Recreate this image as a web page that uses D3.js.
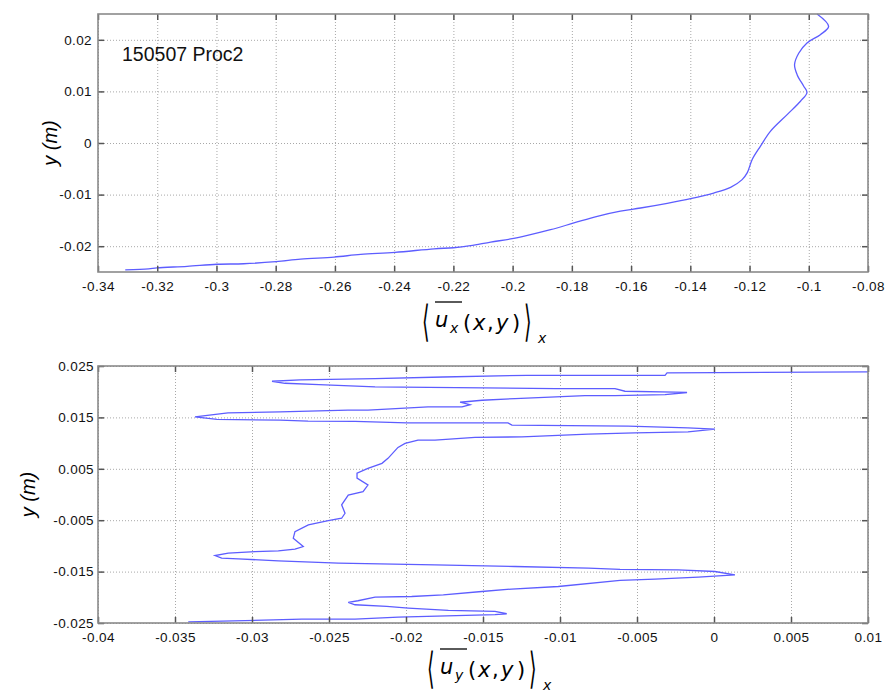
<!DOCTYPE html>
<html><head><meta charset="utf-8">
<script src="https://cdn.jsdelivr.net/npm/d3@7"></script>
<style>body{margin:0;background:#fff}svg{display:block}</style>
</head><body><svg id="c" width="889" height="695"></svg>
<script>
// ---------- data ----------
const topX = [-0.3308,-0.3229,-0.3201,-0.3099,-0.2998,-0.2908,-0.2799,-0.2716,-0.2603,-0.2513,-0.2397,-0.2265,-0.2200,-0.2142,-0.2074,-0.2007,-0.1950,-0.1872,-0.1793,-0.1714,-0.1636,-0.1568,-0.1478,-0.1399,-0.1321,-0.1264,-0.1225,-0.1208,-0.1191,-0.1163,-0.1129,-0.1073,-0.1028,-0.1006,-0.1017,-0.1039,-0.1048,-0.1034,-0.1006,-0.0961,-0.0933,-0.0972];
const topY = [-0.0246,-0.0244,-0.0242,-0.0239,-0.0235,-0.0234,-0.0230,-0.0225,-0.0221,-0.0216,-0.0212,-0.0205,-0.0203,-0.0199,-0.0192,-0.0186,-0.0179,-0.0168,-0.0155,-0.0142,-0.0132,-0.0126,-0.0117,-0.0108,-0.0097,-0.0086,-0.0071,-0.0058,-0.0032,-0.0006,0.0023,0.0055,0.0081,0.0098,0.0110,0.0132,0.0152,0.0174,0.0194,0.0210,0.0226,0.0250];

const botX = [0.0100,-0.00305,-0.00318,-0.01214,-0.0176,-0.02201,-0.02688,-0.0287,-0.02786,-0.02565,-0.02201,-0.01032,-0.00643,-0.00578,-0.00253,-0.00175,-0.00318,-0.00643,-0.00838,-0.01292,-0.01506,-0.01649,-0.01584,-0.01636,-0.01857,-0.02247,-0.02377,-0.02818,-0.03156,-0.0337,-0.03227,-0.02818,-0.02636,-0.02331,-0.01994,-0.01338,-0.01312,-0.00558,-0.00169,0.00006,-0.00169,-0.00513,-0.00818,-0.01247,-0.01552,-0.01812,-0.01922,-0.02006,-0.02052,-0.02117,-0.02156,-0.02247,-0.02318,-0.02318,-0.02247,-0.02279,-0.02375,-0.02418,-0.02396,-0.02418,-0.02505,-0.02634,-0.02721,-0.02732,-0.02667,-0.02721,-0.02829,-0.0298,-0.03154,-0.0324,-0.03197,-0.03089,-0.02829,-0.0244,-0.01812,-0.01292,-0.00816,-0.0061,-0.00232,0.00006,0.00136,-0.00102,-0.00383,-0.0061,-0.01011,-0.01314,-0.01508,-0.01758,-0.01963,-0.02201,-0.02312,-0.02375,-0.02331,-0.02125,-0.01985,-0.01725,-0.01422,-0.01346,-0.01422,-0.0205,-0.02331,-0.02677,-0.03414];
const botY = [0.02387,0.02368,0.02319,0.02319,0.02286,0.02255,0.02232,0.02203,0.02164,0.02139,0.02092,0.02061,0.02061,0.02009,0.0199,0.01984,0.01945,0.01922,0.01922,0.01867,0.01834,0.01795,0.01747,0.01704,0.01704,0.0164,0.0164,0.01607,0.01588,0.0151,0.0146,0.01446,0.01427,0.01421,0.01394,0.01394,0.01349,0.0133,0.01297,0.01271,0.01219,0.012,0.01174,0.01122,0.0111,0.01058,0.01058,0.00994,0.00916,0.00703,0.00606,0.00509,0.00417,0.0032,0.00184,0.00054,-0.0001,-0.0020,-0.00365,-0.00462,-0.00509,-0.00592,-0.00722,-0.0085,-0.01013,-0.01064,-0.01097,-0.0111,-0.01141,-0.01188,-0.01238,-0.01252,-0.01291,-0.01335,-0.01368,-0.01401,-0.01432,-0.01456,-0.01465,-0.01498,-0.01562,-0.01607,-0.01646,-0.01669,-0.0179,-0.0184,-0.01887,-0.01951,-0.01984,-0.01995,-0.02067,-0.021,-0.02145,-0.02178,-0.02209,-0.02255,-0.02275,-0.0232,-0.02339,-0.02384,-0.02426,-0.02426,-0.0248];

const topXTicks = [-0.34,-0.32,-0.3,-0.28,-0.26,-0.24,-0.22,-0.2,-0.18,-0.16,-0.14,-0.12,-0.1,-0.08];
const topYTicks = [-0.02,-0.01,0,0.01,0.02];
const botXTicks = [-0.04,-0.035,-0.03,-0.025,-0.02,-0.015,-0.01,-0.005,0,0.005,0.01];
const botYTicks = [-0.025,-0.015,-0.005,0.005,0.015,0.025];
const annotation = "150507 Proc2";
const yLabel = "y (m)";

// ---------- drawing ----------
const svg = d3.select("#c");
const FONT = "'Liberation Sans', Arial, sans-serif";
const fmt = d => String(+d.toFixed(4));

function panel(o){
  const x = d3.scaleLinear().domain(o.xd).range([o.l, o.r]);
  const y = d3.scaleLinear().domain(o.yd).range([o.b, o.t]);
  const g = svg.append("g");
  const W = o.r - o.l, H = o.b - o.t;
  // grid
  const gx = g.append("g").attr("transform",`translate(0,${o.b})`)
    .call(d3.axisBottom(x).tickValues(o.xt).tickSize(-H).tickFormat(""));
  const gy = g.append("g").attr("transform",`translate(${o.l},0)`)
    .call(d3.axisLeft(y).tickValues(o.yt).tickSize(-W).tickFormat(""));
  [gx,gy].forEach(a=>{a.select(".domain").remove();
    a.selectAll("line").attr("stroke","#a8a8a8").attr("stroke-width",1).attr("stroke-dasharray","1,2");});
  // data line
  const pts = o.xs.map((v,i)=>[v,o.ys[i]]);
  g.append("path").datum(pts)
    .attr("d", d3.line().x(d=>x(d[0])).y(d=>y(d[1])).curve(o.curve))
    .attr("fill","none").attr("stroke","#5d5dff").attr("stroke-width",1.3);
  // inside tick marks on all sides
  const tl = 6;
  const axes = [
    [d3.axisBottom(x).tickValues(o.xt).tickSize(-tl), `translate(0,${o.b})`],
    [d3.axisTop(x).tickValues(o.xt).tickSize(-tl), `translate(0,${o.t})`],
    [d3.axisLeft(y).tickValues(o.yt).tickSize(-tl), `translate(${o.l},0)`],
    [d3.axisRight(y).tickValues(o.yt).tickSize(-tl), `translate(${o.r},0)`]
  ];
  axes.forEach(([ax,tr])=>{
    const a = g.append("g").attr("transform",tr).call(ax.tickFormat(""));
    a.select(".domain").remove();
    a.selectAll("line").attr("stroke","#555").attr("stroke-width",1.5);
  });
  // frame
  g.append("rect").attr("x",o.l).attr("y",o.t).attr("width",W).attr("height",H)
    .attr("fill","none").attr("stroke","#8a8a8a").attr("stroke-width",1.6);
  // tick labels
  const lx = g.append("g").attr("transform",`translate(0,${o.b})`)
    .call(d3.axisBottom(x).tickValues(o.xt).tickSize(0).tickPadding(o.xpad).tickFormat(fmt));
  const ly = g.append("g").attr("transform",`translate(${o.l},0)`)
    .call(d3.axisLeft(y).tickValues(o.yt).tickSize(0).tickPadding(o.ypad).tickFormat(fmt));
  [lx,ly].forEach(a=>{a.select(".domain").remove(); a.selectAll("line").remove();
    a.selectAll("text").attr("font-family",FONT).attr("font-size",13.5).attr("fill","#111")
      .attr("letter-spacing",0.4);});
  // y label
  g.append("text").attr("transform",`translate(${o.ylx},${(o.t+o.b)/2}) rotate(-90)`)
    .attr("text-anchor","middle").attr("font-family",FONT).attr("font-size",20)
    .attr("font-style","italic").text(yLabel);
  return {x,y,g};
}

function mathLabel(x0, y0, sub){
  // x0: left of opening bracket, y0: baseline
  const g = svg.append("g").attr("font-family","'DejaVu Sans', sans-serif").attr("fill","#000");
  g.append("text").attr("transform",`translate(${x0-1},${y0+6}) scale(0.7,1.55)`)
    .attr("font-size",28).attr("font-weight",200).text("\u27E8");
  g.append("text").attr("x",x0+12).attr("y",y0-3).attr("font-size",21).attr("font-style","italic").text("u");
  g.append("text").attr("x",x0+27).attr("y",y0+3).attr("font-size",14).attr("font-style","italic").text(sub);
  g.append("line").attr("x1",x0+12).attr("x2",x0+39).attr("y1",y0-28).attr("y2",y0-28)
    .attr("stroke","#000").attr("stroke-width",1.3);
  const parts = [["(",40,false],["x",50,true],[",",64,false],["y",73,true],[")",89,false]];
  parts.forEach(([t,dx,it])=>{
    g.append("text").attr("x",x0+dx).attr("y",y0).attr("font-size",21)
      .attr("font-style",it?"italic":"normal").text(t);
  });
  g.append("text").attr("transform",`translate(${x0+101},${y0+6}) scale(0.7,1.55)`)
    .attr("font-size",28).attr("font-weight",200).text("\u27E9");
  g.append("text").attr("x",x0+115).attr("y",y0+13).attr("font-size",14).attr("font-style","italic").text("x");
}

const p1 = panel({l:98,r:868,t:14,b:272,xd:[-0.34,-0.08],yd:[-0.025,0.025],
  xt:topXTicks,yt:topYTicks,xs:topX,ys:topY,curve:d3.curveCatmullRom,xpad:9,ypad:6,ylx:57});
p1.g.append("text").attr("x",122).attr("y",61).attr("font-family",FONT).attr("font-size",19.5)
  .attr("fill","#111").text(annotation);
mathLabel(423,330,"x");

const p2 = panel({l:98,r:868,t:366,b:623,xd:[-0.04,0.01],yd:[-0.025,0.025],
  xt:botXTicks,yt:botYTicks,xs:botX,ys:botY,curve:d3.curveLinear,xpad:9,ypad:4,ylx:35});
mathLabel(428,677,"y");
</script></body></html>
